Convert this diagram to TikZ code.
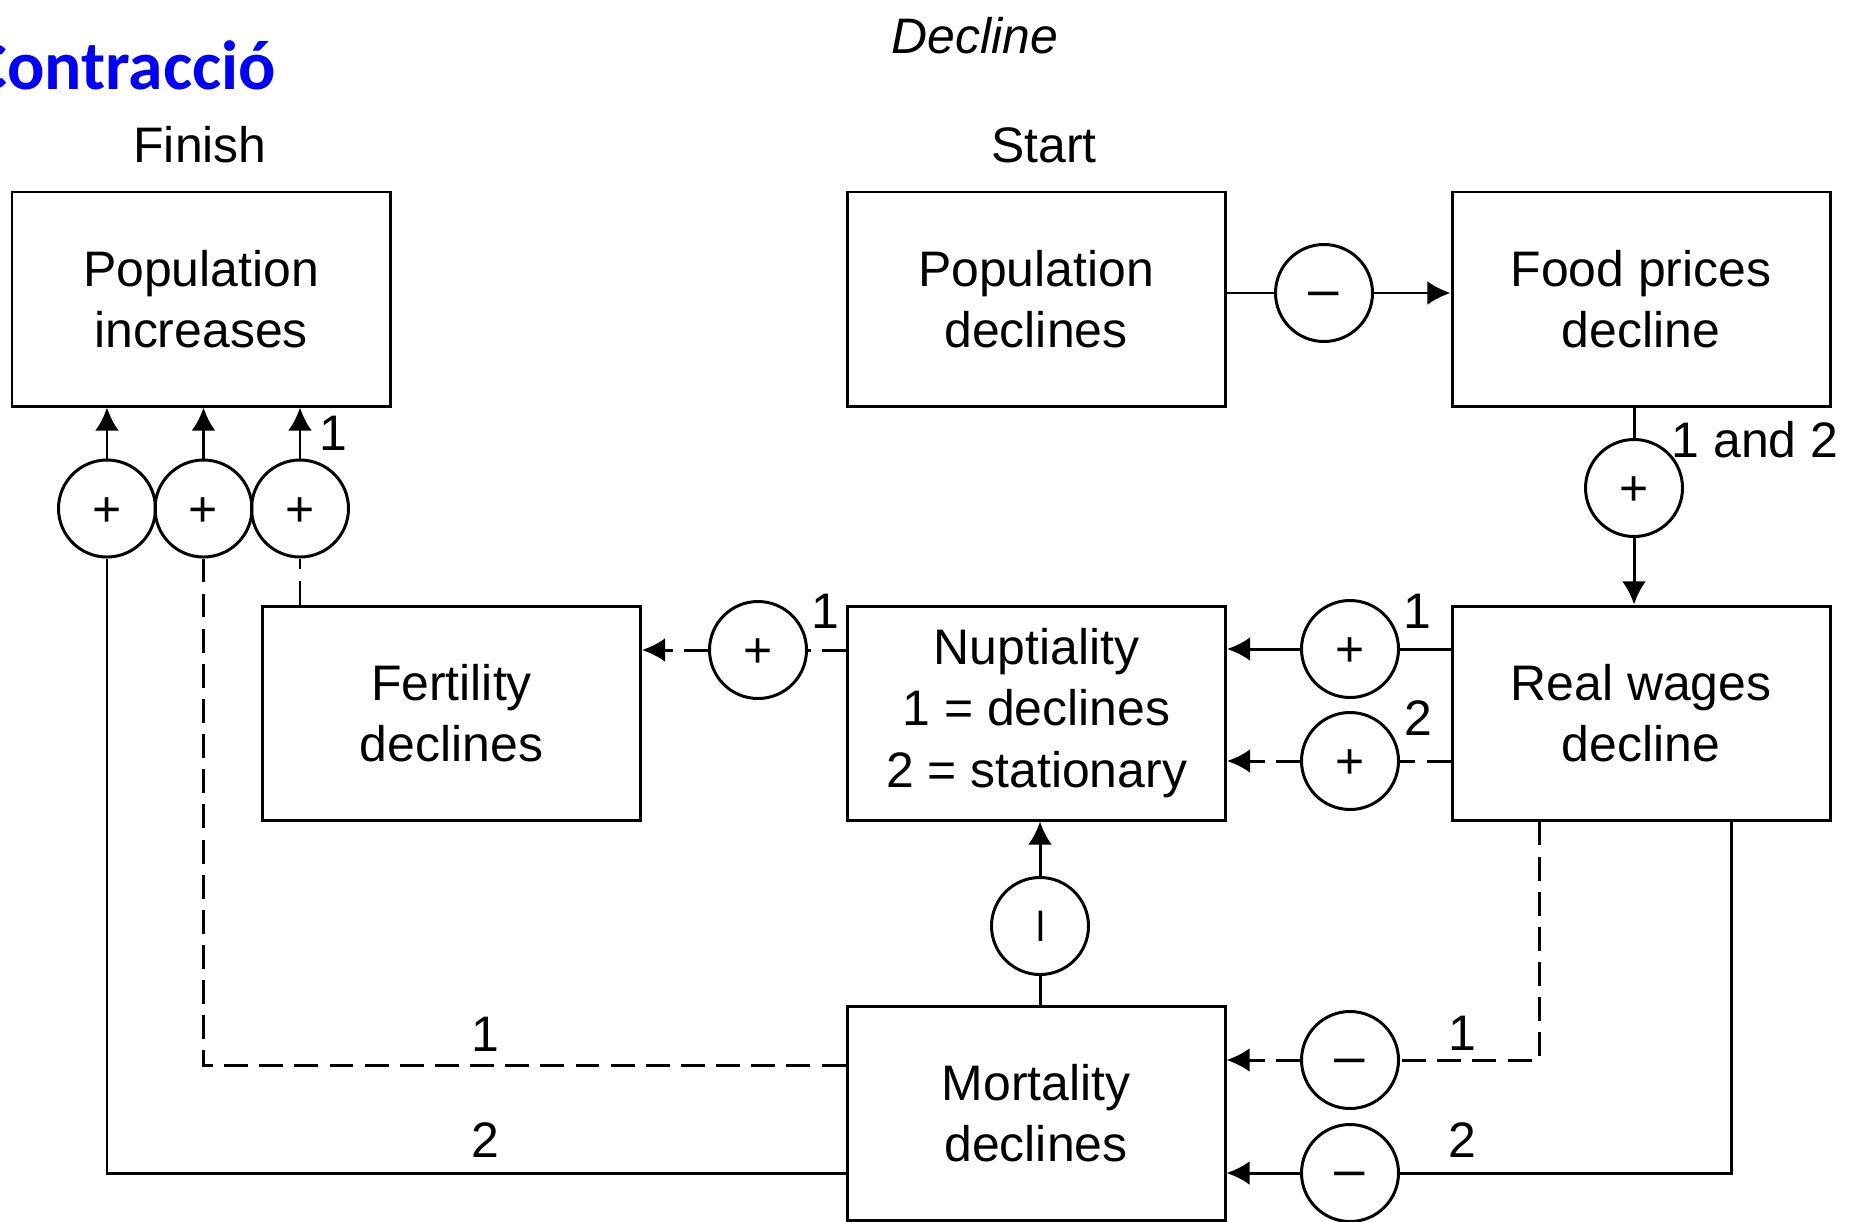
\documentclass[tikz,border=0pt]{standalone}
\usepackage{fontspec}
\setmainfont{Liberation Sans}
\newfontfamily\titlefont{Carlito}
\usetikzlibrary{arrows.meta,positioning}

\newcommand{\minussign}{\scalebox{1.25}[1]{−}}

\begin{document}
\begin{tikzpicture}[
  font=\fontsize{14.2}{17.4}\selectfont,
  line width=0.85pt,
  box/.style={draw, minimum width=3.78cm, minimum height=2.14cm, align=center, inner sep=0pt},
  sign/.style={draw, circle, minimum size=0.97cm, inner sep=0pt, text height=10pt, text depth=0pt},
  arrow/.style={-{Latex[length=6.6pt,width=6.8pt]}},
  dashline/.style={dash pattern=on 6.8pt off 3.2pt},
  lab/.style={inner sep=0pt, anchor=base}
]
\useasboundingbox (0,0) rectangle (18.51,-12.21);

% headings
\node[anchor=base west, inner sep=0pt, text=blue, font=\titlefont\bfseries\fontsize{19.8}{22}\selectfont] (title) at (-0.31,-0.89) {Contracció};
\node[lab, font=\itshape\fontsize{14.2}{17.4}\selectfont] (decl) at (9.75,-0.53) {Decline};
\node[lab] (finish) at (2.00,-1.62) {Finish};
\node[lab] (start) at (10.44,-1.62) {Start};

% boxes
\node[box] (popinc) at (2.01,-2.99) {Population\\increases};
\node[box] (popdec) at (10.36,-2.99) {Population\\declines};
\node[box] (food) at (16.41,-2.99) {Food prices\\decline};
\node[box] (fert) at (4.515,-7.13) {Fertility\\declines};
\node[box] (nupt) at (10.365,-7.13) {Nuptiality\\1 = declines\\2 = stationary};
\node[box] (wages) at (16.41,-7.13) {Real wages\\decline};
\node[box] (mort) at (10.36,-11.13) {Mortality\\declines};

% signs
\node[sign] (s1) at (13.24,-2.93) {\minussign};
\node[sign] (s2) at (16.34,-4.88) {+};
\node[sign] (s3) at (13.50,-6.49) {+};
\node[sign] (s4) at (13.50,-7.61) {+};
\node[sign] (s5) at (7.58,-6.50) {+};
\node[sign, rotate=90] (s6) at (10.40,-9.26) {\minussign};
\node[sign] (s7) at (13.50,-10.60) {\minussign};
\node[sign] (s8) at (13.50,-11.73) {\minussign};
\foreach \n/\x in {p1/1.07, p2/2.035, p3/3.00}
  \node[sign] (\n) at (\x,-5.085) {+};

% connectors
\draw (popdec.east |- s1) -- (s1);
\draw[arrow] (s1) -- (food.west |- s1);
\draw (food.south -| s2) -- (s2);
\draw[arrow] (s2) -- (wages.north -| s2);
\draw (wages.west |- s3) -- (s3);
\draw[arrow] (s3) -- (nupt.east |- s3);
\draw[dashline] (wages.west |- s4) -- (s4);
\draw[dashline, arrow] (s4) -- (nupt.east |- s4);
\draw[dashline] (nupt.west |- s5) -- (s5);
\draw[dashline, arrow] (s5) -- (fert.east |- s5);
\draw (mort.north -| s6) -- (s6);
\draw[arrow] (s6) -- (nupt.south -| s6);

\coordinate (wd) at (15.39,-10.60);
\coordinate (ws) at (17.31,-11.73);
\draw[dashline] (wages.south -| wd) -- (wd) -- (s7);
\draw[dashline, arrow] (s7) -- (mort.east |- s7);
\draw (wages.south -| ws) -- (ws) -- (s8);
\draw[arrow] (s8) -- (mort.east |- s8);

\coordinate (md) at (2.035,-10.65);
\coordinate (ms) at (1.07,-11.73);
\draw[dashline] (mort.west |- md) -- (md) -- (p2);
\draw (mort.west |- ms) -- (ms) -- (p1);
\draw[dashline] (fert.north -| p3) -- (p3);
\foreach \p in {p1,p2,p3}
  \draw[arrow] (\p) -- (popinc.south -| \p);

% path labels
\node[lab] (t1) at (3.33,-4.50) {1};
\node[lab] (t2) at (17.55,-4.57) {1 and 2};
\node[lab] (t3) at (14.17,-6.28) {1};
\node[lab] (t4) at (14.18,-7.35) {2};
\node[lab] (t5) at (8.25,-6.28) {1};
\node[lab] (t6) at (14.62,-10.50) {1};
\node[lab] (t7) at (14.62,-11.57) {2};
\node[lab] (t8) at (4.85,-10.51) {1};
\node[lab] (t9) at (4.85,-11.57) {2};
\end{tikzpicture}
\end{document}
